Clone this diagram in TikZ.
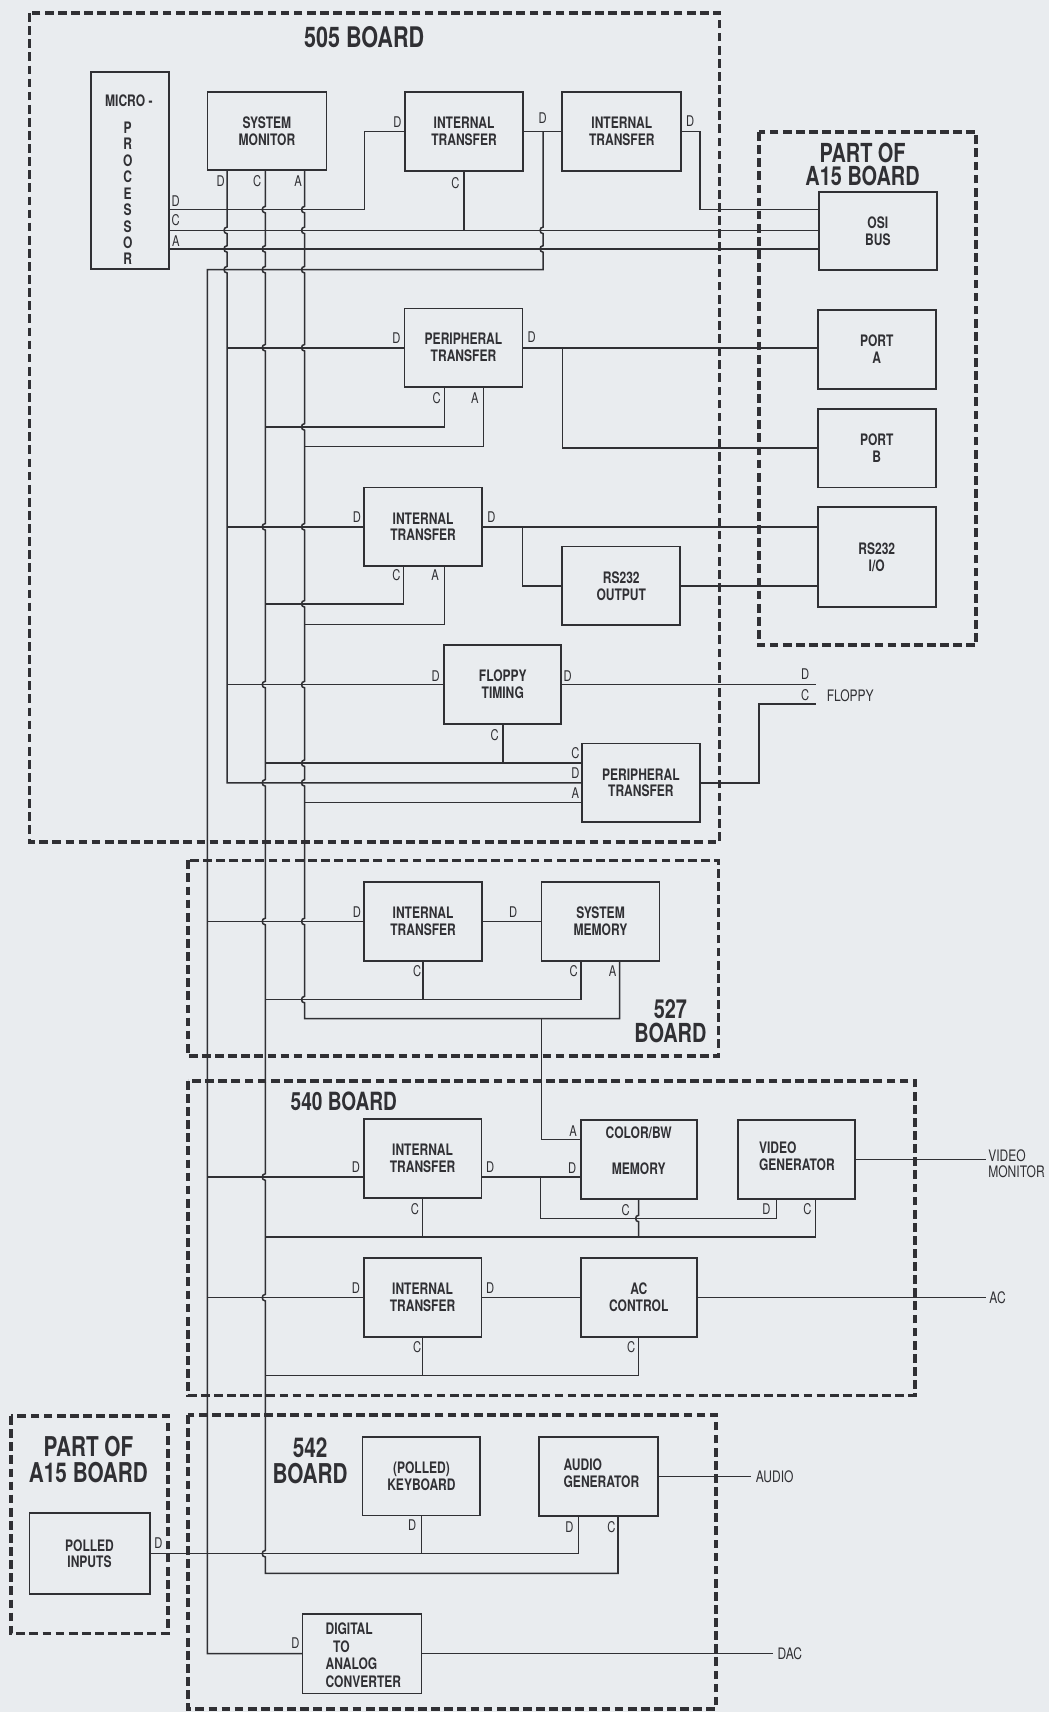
\documentclass[tikz,border=0pt]{standalone}
\usepackage{fontspec}
\setmainfont{TeX Gyre Heros}[FakeStretch=0.76]
\definecolor{paper}{RGB}{233,236,239}
\definecolor{ink}{RGB}{48,48,52}
\newcommand\boxfont{\fontsize{14.5}{15.5}\selectfont\bfseries}
\newcommand\pinfont{\fontsize{13.5}{14}\selectfont}
\newcommand\sigfont{\fontsize{14.5}{15}\selectfont}
\newcommand\ttlfont{\fontsize{25}{22}\selectfont\bfseries}
\newcommand\busline[4]{\def\busx{#2}\draw[wire] (#1) \foreach \hy in {#3}{ -- (\busx,\hy-3) to[out=180,in=180,looseness=1.6] (\busx,\hy+3)} -- #4;}
\newcommand\pl[3]{\node[pin] at (#1,#2) {#3};}
\begin{document}
\begin{tikzpicture}[x=1pt,y=-1pt,
  wire/.style={draw=ink,line width=1.4pt},
  box/.style={draw=ink,fill=paper,line width=1.7pt,minimum width=108pt,minimum height=72pt,inner sep=0pt,align=center,font=\boxfont,text=ink},
  bt/.style={font=\boxfont,inner sep=0pt,text=ink,align=center},
  frame/.style={draw=ink,line width=3.3pt,dash pattern=on 8pt off 4pt},
  pin/.style={font=\pinfont,inner sep=0pt,text=ink},
  sig/.style={font=\sigfont,inner sep=0pt,text=ink,anchor=west,align=left},
  ttl/.style={font=\ttlfont,inner sep=0pt,text=ink,align=center}]

\fill[paper] (0,0) rectangle (961,1568);
\useasboundingbox (0,0) rectangle (961,1568);

% board frames
\draw[frame] (27,12) rectangle (659,771);
\draw[frame] (695,121) rectangle (894,591);
\draw[frame] (172,788) rectangle (658,967);
\draw[frame] (172,990) rectangle (838,1278);
\draw[frame] (10,1297) rectangle (154,1496);
\draw[frame] (172,1296) rectangle (656,1565);

% titles
\node[ttl,font=\fontsize{26}{26}\selectfont\bfseries] (t505) at (333.5,34) {505 BOARD};
\node[ttl,font=\fontsize{24}{21}\selectfont\bfseries] (ta15) at (790,151) {PART OF\\A15 BOARD};
\node[ttl,font=\fontsize{24}{22}\selectfont\bfseries] (t527) at (614,935) {527\\BOARD};
\node[ttl,font=\fontsize{23}{23}\selectfont\bfseries,anchor=west] (t540) at (266,1009) {540 BOARD};
\node[ttl,font=\fontsize{25}{24}\selectfont\bfseries] (ta15b) at (81,1337) {PART OF\\A15 BOARD};
\node[ttl,font=\fontsize{25}{23.5}\selectfont\bfseries] (t542) at (284,1338) {542\\BOARD};

% ---------- wires ----------
\draw[wire] (119,192) -- (334,192) -- (334,120.5) -- (425,120.5);
\draw[wire] (119,211) -- (804,211);
\draw[wire] (119,228) -- (804,228);
\draw[wire] (425,120) -- (425,211);
\draw[wire] (425,120.5) -- (569.5,120.5);
\draw[wire] (569.5,120.5) -- (641,120.5) -- (641,192) -- (804,192);
% D2 bus
\busline{497.5,120.5}{497.5}{211,228}{(497.5,247) -- (190,247) -- (190,1514.5) -- (331.5,1514.5)}
% SM D / C / A buses
\busline{208,120}{208}{211,228,247}{(208,717) -- (587,717)}
\busline{243,120}{243}{192,228,247,318.5,482.5,627,717,844,1078,1188.5,1423}{(243,1441) -- (566,1441) -- (566,1352)}
\busline{279,120}{279}{192,211,247,318.5,391,482.5,553,627,699,717,844,915.5}{(279,933) -- (567.6,933) -- (567.6,844)}

\draw[wire] (208,318.5) -- (803,318.5);
\draw[wire] (515,318.5) -- (515,410.5) -- (803,410.5);
\draw[wire] (407,318.5) -- (407,391) -- (243,391);
\draw[wire] (443,318.5) -- (443,409) -- (279,409);
\draw[wire] (208,482.5) -- (803,482.5);
\draw[wire] (478.6,482.5) -- (478.6,536.5) -- (803,536.5);
\draw[wire] (369.5,482.5) -- (369.5,553) -- (243,553);
\draw[wire] (407,482.5) -- (407,572) -- (279,572);
\coordinate (flD) at (747.6,627);
\coordinate (flC) at (747.6,645);
\draw[wire] (208,627) -- (flD);
\draw[wire] (460.5,627) -- (460.5,699);
\draw[wire] (243,699) -- (587,699);
\draw[wire] (279,735) -- (587,735);
\draw[wire] (587,717) -- (695,717) -- (695,645) -- (flC);
\draw[wire] (190,844) -- (550,844);
\draw[wire] (387.5,844) -- (387.5,915.5);
\draw[wire] (532,844) -- (532,915.5) -- (243,915.5);
\draw[wire] (496,933) -- (496,1043.5) -- (585,1043.5);
\draw[wire] (190,1078) -- (585,1078);
\draw[wire] (495,1078) -- (495,1116) -- (711,1116) -- (711,1062);
\busline{585,1062}{585}{1116}{(585,1133)}
\draw[wire] (243,1133) -- (747,1133) -- (747,1062);
\draw[wire] (387,1061) -- (387,1133);
\coordinate (vmon) at (902.6,1062);
\draw[wire] (729.5,1062) -- (vmon);
\draw[wire] (190,1188.5) -- (585,1188.5);
\coordinate (acout) at (902.6,1188.5);
\draw[wire] (585,1188.5) -- (acout);
\draw[wire] (387,1188.5) -- (387,1259.6);
\draw[wire] (585,1188.5) -- (585,1259.6) -- (243,1259.6);
\draw[wire] (82,1423) -- (530,1423) -- (530,1352.5);
\draw[wire] (386,1352) -- (386,1423);
\coordinate (aud) at (687.6,1352.5);
\draw[wire] (548.5,1352.5) -- (aud);
\coordinate (dacout) at (707.6,1514.5);
\draw[wire] (331.5,1514.5) -- (dacout);

% ---------- boxes ----------
\node[box,minimum width=72pt,minimum height=180pt] (mp) at (119,156) {};
\node[bt] (mpt1) at (118,92.5) {MICRO -};
\node[bt,font=\fontsize{14.5}{15.1}\selectfont\bfseries] (mpt2) at (117,177) {P\\R\\O\\C\\E\\S\\S\\O\\R};
\node[box,minimum width=109pt] (sm) at (244.5,120) {SYSTEM\\MONITOR};
\node[box] (it1) at (425,120.5) {INTERNAL\\TRANSFER};
\node[box,minimum width=109pt] (it2) at (569.5,120.5) {INTERNAL\\TRANSFER};
\node[box,minimum height=71pt] (osi) at (804,211.5) {OSI\\BUS};
\node[box] (pta) at (803,320) {PORT\\A};
\node[box] (ptb) at (803,410.5) {PORT\\B};
\node[box,minimum height=92pt] (rsio) at (803,510) {RS232\\I/O};
\node[box] (pt1) at (424.5,318.5) {PERIPHERAL\\TRANSFER};
\node[box] (it3) at (387.5,482.5) {INTERNAL\\TRANSFER};
\node[box] (rsout) at (569,536.5) {RS232\\OUTPUT};
\node[box,minimum width=107pt] (ft) at (460.5,627) {FLOPPY\\TIMING};
\node[box] (pt2) at (587,717) {PERIPHERAL\\TRANSFER};
\node[box] (it4) at (387.5,844) {INTERNAL\\TRANSFER};
\node[box] (smem) at (550,844) {SYSTEM\\MEMORY};
\node[box] (it5) at (387,1061) {INTERNAL\\TRANSFER};
\node[box,minimum width=106pt] (cbw) at (585,1062) {};
\node[bt] (cbwt1) at (585,1037) {COLOR/BW};
\node[bt] (cbwt2) at (585,1070) {MEMORY};
\node[box,minimum width=107pt] (vg) at (729.5,1062) {};
\node[bt,anchor=west,align=left] (vgt) at (695,1059) {VIDEO\\GENERATOR};
\node[box] (it6) at (387,1188.5) {INTERNAL\\TRANSFER};
\node[box,minimum width=106pt] (acc) at (585,1188.5) {AC\\CONTROL};
\node[box,minimum width=110pt,minimum height=74pt] (pin) at (82,1423) {POLLED\\INPUTS};
\node[box] (kb) at (386,1352) {(POLLED)\\KEYBOARD};
\node[box,minimum width=109pt] (ag) at (548.5,1352.5) {};
\node[bt,anchor=west,align=left] (agt) at (516,1349) {AUDIO\\GENERATOR};
\node[box,minimum width=109pt,minimum height=73pt] (dac) at (331.5,1514.5) {};
\node[bt,anchor=west,align=left,font=\fontsize{14.5}{16.4}\selectfont\bfseries] (dact) at (298,1516) {DIGITAL\\\hspace*{7pt}TO\\ANALOG\\CONVERTER};

% ---------- signal labels ----------
\node[sig] (lvm) at (905,1066) {VIDEO\\MONITOR};
\node[sig] (lac) at (906,1189) {AC};
\node[sig] (laud) at (692,1352.5) {AUDIO};
\node[sig] (ldac) at (712,1515) {DAC};
\node[sig] (lfl) at (757,637) {FLOPPY};

% ---------- pin labels ----------
\pl{161}{184}{D} \pl{161}{202}{C} \pl{161}{221}{A}
\pl{202}{166}{D} \pl{235.5}{166}{C} \pl{273}{166}{A}
\pl{364}{112}{D} \pl{497}{108}{D} \pl{632}{111}{D} \pl{417}{168}{C}
\pl{363}{310}{D} \pl{487}{309}{D} \pl{400}{365}{C} \pl{435}{365}{A}
\pl{327}{474}{D} \pl{450}{474}{D} \pl{363}{527}{C} \pl{398.5}{527}{A}
\pl{399}{619}{D} \pl{520}{619}{D} \pl{453}{673}{C}
\pl{737.5}{617.5}{D} \pl{737.5}{637}{C}
\pl{527}{690}{C} \pl{527}{708}{D} \pl{527}{726}{A}
\pl{327}{835}{D} \pl{470}{835}{D} \pl{382}{889}{C} \pl{525.5}{889}{C} \pl{561}{889}{A}
\pl{525}{1036}{A} \pl{524}{1070}{D} \pl{573}{1108}{C}
\pl{326}{1069}{D} \pl{449}{1069}{D} \pl{380}{1107}{C}
\pl{702}{1107}{D} \pl{739.5}{1107}{C}
\pl{326}{1180}{D} \pl{449}{1180}{D} \pl{382}{1234}{C} \pl{578}{1234}{C}
\pl{145}{1413.5}{D} \pl{377.5}{1397}{D} \pl{521.5}{1398.5}{D} \pl{560}{1398.5}{C}
\pl{270.5}{1505}{D}
\end{tikzpicture}
\end{document}
